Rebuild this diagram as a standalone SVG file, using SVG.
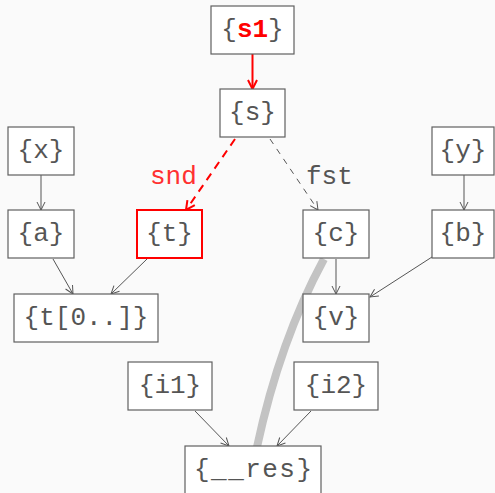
<svg xmlns="http://www.w3.org/2000/svg" width="495" height="493" viewBox="0 0 495 493">
<style>
.bg{fill:#fafafa}
.box{fill:#ffffff;stroke:#606060;stroke-width:1.2}
.hl{fill:#ffffff;stroke:#ff0000;stroke-width:2}
.lbl{font-family:"Liberation Mono","Courier New",monospace;font-size:26px;fill:#555555;text-anchor:middle}
.red{fill:#ff0000;font-weight:bold}
.e{fill:none;stroke:#555555;stroke-width:1}
.er{fill:none;stroke:#ff0000;stroke-width:2}
.el{font-family:"Liberation Mono","Courier New",monospace;font-size:26px;fill:#555555}
</style>
<defs>
<marker id="ag" markerWidth="10" markerHeight="10" refX="9" refY="5" orient="auto" markerUnits="userSpaceOnUse">
<path d="M1,1 L9,5 L1,9" fill="none" stroke="#555555" stroke-width="1"/>
</marker>
<marker id="ar" markerWidth="12" markerHeight="12" refX="10" refY="6" orient="auto" markerUnits="userSpaceOnUse">
<path d="M1,1.5 L10,6 L1,10.5" fill="none" stroke="#ff0000" stroke-width="2"/>
</marker>
</defs>
<rect class="bg" x="0" y="0" width="495" height="493"/>
<g id="connectors">
<path d="M324,259 Q280,340 257,447" fill="none" stroke="#c3c3c3" stroke-width="8"/>
<line class="er" x1="252.5" y1="54" x2="252.5" y2="89" marker-end="url(#ar)"/>
<line class="er" x1="235" y1="139" x2="186" y2="210" stroke-dasharray="8,6" marker-end="url(#ar)"/>
<text class="el" x="150" y="184" style="fill:#ff3030">snd</text>
<line class="e" x1="270" y1="139" x2="318" y2="210" stroke-dasharray="6,6" marker-end="url(#ag)"/>
<text class="el" x="306" y="184">fst</text>
<line class="e" x1="41" y1="175" x2="41" y2="210" marker-end="url(#ag)"/>
<line class="e" x1="464" y1="175" x2="464" y2="210" marker-end="url(#ag)"/>
<line class="e" x1="53" y1="259" x2="73" y2="294" marker-end="url(#ag)"/>
<line class="e" x1="147" y1="259" x2="111" y2="294" marker-end="url(#ag)"/>
<line class="e" x1="336" y1="259" x2="336" y2="294" marker-end="url(#ag)"/>
<line class="e" x1="432" y1="257" x2="370" y2="297" marker-end="url(#ag)"/>
<line class="e" x1="195" y1="411" x2="229" y2="446" marker-end="url(#ag)"/>
<line class="e" x1="311" y1="411" x2="277" y2="446" marker-end="url(#ag)"/>
</g>
<g id="node-s1"><rect class="box" x="211" y="6" width="83" height="48"/><text class="lbl" x="252.5" y="37">{<tspan class="red">s1</tspan>}</text></g>
<g id="node-s"><rect class="box" x="220" y="89" width="65" height="48"/><text class="lbl" x="252.5" y="120">{s}</text></g>
<g id="node-x"><rect class="box" x="8" y="127" width="66" height="48"/><text class="lbl" x="41" y="158">{x}</text></g>
<g id="node-y"><rect class="box" x="432" y="127" width="62" height="48"/><text class="lbl" x="463" y="158">{y}</text></g>
<g id="node-a"><rect class="box" x="8" y="210" width="66" height="48"/><text class="lbl" x="41" y="241">{a}</text></g>
<g id="node-t"><rect class="hl" x="137" y="210" width="65" height="48"/><text class="lbl" x="169.5" y="241">{t}</text></g>
<g id="node-c"><rect class="box" x="303" y="210" width="66" height="48"/><text class="lbl" x="336" y="241">{c}</text></g>
<g id="node-b"><rect class="box" x="432" y="210" width="62" height="48"/><text class="lbl" x="463" y="241">{b}</text></g>
<g id="node-t0"><rect class="box" x="14" y="294" width="144" height="48"/><text class="lbl" x="86" y="325">{t[0..]}</text></g>
<g id="node-v"><rect class="box" x="303" y="294" width="66" height="48"/><text class="lbl" x="336" y="325">{v}</text></g>
<g id="node-i1"><rect class="box" x="128" y="362" width="84" height="48"/><text class="lbl" x="170" y="393">{i1}</text></g>
<g id="node-i2"><rect class="box" x="294" y="362" width="84" height="48"/><text class="lbl" x="336" y="393">{i2}</text></g>
<g id="node-res"><rect class="box" x="185" y="446" width="136" height="48"/><text class="lbl" x="253" y="477" textLength="118" lengthAdjust="spacing">{__res}</text></g>
</svg>
